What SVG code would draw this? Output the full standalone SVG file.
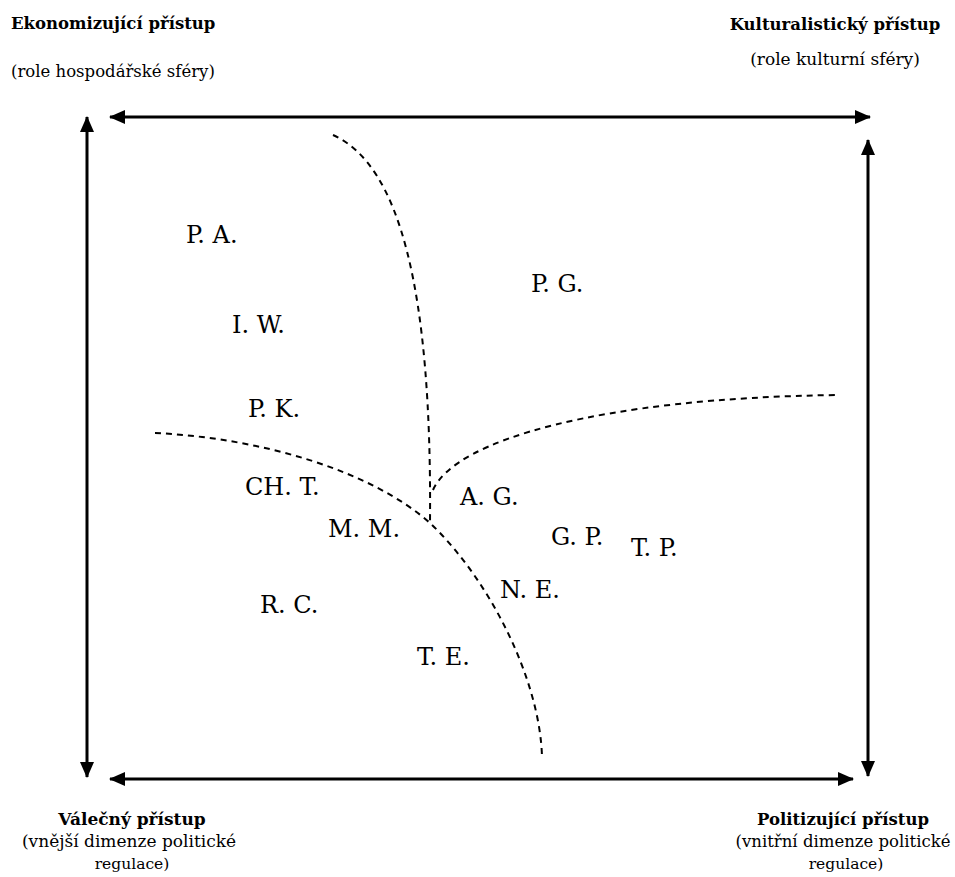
<svg xmlns="http://www.w3.org/2000/svg" width="955" height="877" viewBox="0 0 955 877">
<style>
text{font-family:'DejaVu Serif','Liberation Serif',serif;fill:#000}
.h{font-size:16.5px;font-weight:bold}
.s{font-size:17px}
.l{font-size:24px}
.ax{stroke:#000;stroke-width:3;fill:none;marker-start:url(#ah);marker-end:url(#ah)}
.d{stroke:#000;stroke-width:2;fill:none;stroke-dasharray:6 5}
</style>
<defs>
<marker id="ah" viewBox="0 0 16 14" refX="15" refY="7" markerWidth="16" markerHeight="14" markerUnits="userSpaceOnUse" orient="auto-start-reverse">
<path d="M0,0 L16,7 L0,14 Z" fill="#000"/>
</marker>
</defs>
<rect width="955" height="877" fill="#fff"/>
<g id="titles">
<text class="h" x="11" y="29">Ekonomizující přístup</text>
<text class="s" x="11" y="77" style="font-size:16.5px">(role hospodářské sféry)</text>
<text class="h" x="835" y="30" text-anchor="middle">Kulturalistický přístup</text>
<text class="s" x="835" y="65" text-anchor="middle">(role kulturní sféry)</text>
<text class="h" x="132" y="825" text-anchor="middle" style="font-size:17px">Válečný přístup</text>
<text class="s" x="129" y="847" text-anchor="middle">(vnější dimenze politické</text>
<text class="s" x="132" y="869" text-anchor="middle" style="font-size:15.5px">regulace)</text>
<text class="h" x="843" y="825" text-anchor="middle">Politizující přístup</text>
<text class="s" x="843" y="847" text-anchor="middle" style="font-size:16.5px">(vnitřní dimenze politické</text>
<text class="s" x="846" y="869" text-anchor="middle" style="font-size:15.5px">regulace)</text>
</g>
<g id="connectors">
<line class="ax" x1="110" y1="117" x2="870" y2="117"/>
<line class="ax" x1="87" y1="117" x2="87" y2="777"/>
<line class="ax" x1="110" y1="779" x2="853" y2="779"/>
<line class="ax" x1="868" y1="140" x2="868" y2="776"/>
<path class="d" d="M333,135 C400,165 432,290 430,523"/>
<path class="d" d="M155,433 C260,438 370,470 430,523 C490,580 540,680 542,757"/>
<path class="d" d="M433,490 C455,440 600,398 838,395"/>
</g>
<g id="n-pa"><text class="l" x="186" y="243">P. A.</text></g>
<g id="n-pg"><text class="l" x="531" y="292">P. G.</text></g>
<g id="n-iw"><text class="l" x="232" y="333">I. W.</text></g>
<g id="n-pk"><text class="l" x="248" y="417">P. K.</text></g>
<g id="n-cht"><text class="l" x="245" y="495">CH. T.</text></g>
<g id="n-mm"><text class="l" x="328" y="537">M. M.</text></g>
<g id="n-ag"><text class="l" x="460" y="505">A. G.</text></g>
<g id="n-gp"><text class="l" x="551" y="545">G. P.</text></g>
<g id="n-tp"><text class="l" x="631" y="556">T. P.</text></g>
<g id="n-ne"><text class="l" x="500" y="598">N. E.</text></g>
<g id="n-rc"><text class="l" x="260" y="613">R. C.</text></g>
<g id="n-te"><text class="l" x="417" y="665">T. E.</text></g>
</svg>
